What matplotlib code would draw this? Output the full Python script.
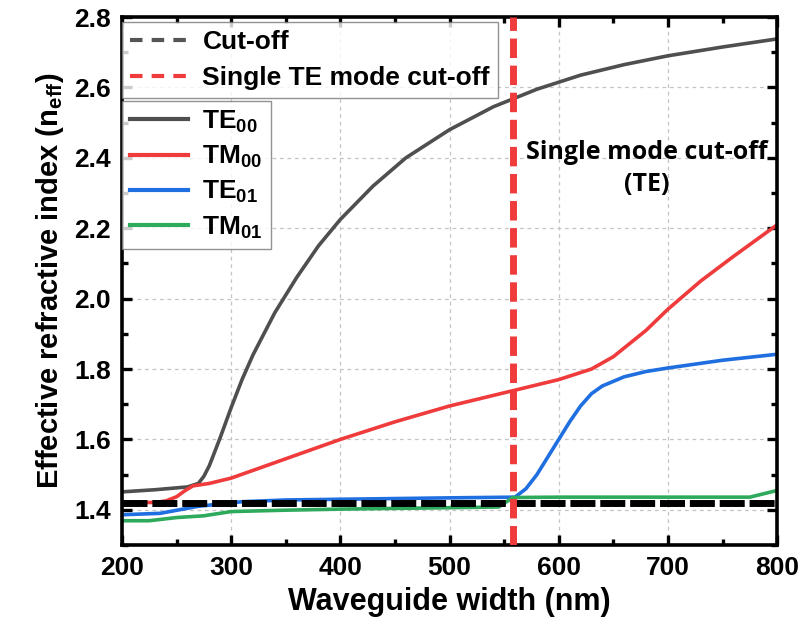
import numpy as np
import matplotlib
matplotlib.use('Agg')
import matplotlib.pyplot as plt
from matplotlib.lines import Line2D
from matplotlib.ticker import MultipleLocator

plt.rcParams['font.family'] = ['Liberation Sans', 'DejaVu Sans']
plt.rcParams['font.weight'] = 'bold'
plt.rcParams['mathtext.fontset'] = 'custom'
plt.rcParams['mathtext.rm'] = 'Liberation Sans:bold'
plt.rcParams['mathtext.bf'] = 'Liberation Sans:bold'
plt.rcParams['mathtext.it'] = 'Liberation Sans:bold'

# effective index vs waveguide width (nm), one set of samples per mode
w_te00 = [200, 230, 260, 270, 275, 280, 285, 290, 300, 310, 320, 340, 360,
          380, 400, 430, 460, 500, 540, 580, 620, 660, 700, 750, 800]
n_te00 = [1.451, 1.457, 1.465, 1.475, 1.495, 1.525, 1.565, 1.605, 1.69, 1.77,
          1.84, 1.96, 2.06, 2.15, 2.225, 2.32, 2.40, 2.48, 2.545, 2.595,
          2.635, 2.665, 2.69, 2.715, 2.738]

w_tm00 = [200, 230, 240, 250, 258, 265, 280, 300, 350, 400, 450, 500, 560,
          600, 630, 650, 680, 700, 730, 760, 800]
n_tm00 = [1.42, 1.421, 1.425, 1.437, 1.455, 1.468, 1.475, 1.49, 1.545, 1.60,
          1.65, 1.695, 1.74, 1.77, 1.80, 1.835, 1.91, 1.97, 2.05, 2.12, 2.21]

w_te01 = [200, 235, 270, 310, 350, 400, 450, 500, 560, 570, 580, 590, 600,
          610, 620, 630, 640, 650, 660, 680, 700, 750, 800]
n_te01 = [1.386, 1.39, 1.41, 1.423, 1.428, 1.43, 1.432, 1.434, 1.436, 1.46,
          1.50, 1.55, 1.60, 1.65, 1.695, 1.73, 1.752, 1.765, 1.778, 1.793,
          1.803, 1.825, 1.842]

w_tm01 = [200, 225, 250, 275, 300, 350, 400, 450, 500, 545, 558, 600, 700,
          775, 800]
n_tm01 = [1.369, 1.369, 1.378, 1.383, 1.395, 1.399, 1.402, 1.404, 1.406,
          1.408, 1.435, 1.436, 1.436, 1.436, 1.455]

n_cutoff = 1.42
w_single_te = 558

mode_labels = [r'TE$_{00}$', r'TM$_{00}$', r'TE$_{01}$', r'TM$_{01}$']
mode_colors = ['#4f4f4f', '#ef3b3b', '#1f6fe0', '#2eaa5c']

fig = plt.figure(figsize=(8.02, 6.33), dpi=100)
ax = fig.add_axes([0.152, 0.139, 0.817, 0.834])

ax.plot(w_te00, n_te00, color=mode_colors[0], lw=2.6)
ax.plot(w_tm00, n_tm00, color=mode_colors[1], lw=2.6)
ax.plot(w_te01, n_te01, color=mode_colors[2], lw=2.6)
ax.plot(w_tm01, n_tm01, color=mode_colors[3], lw=2.6)

ax.axhline(n_cutoff, color='black', lw=5, dashes=(3.6, 0.7), zorder=3)
ax.axvline(w_single_te, color='#ef3b3b', lw=5, dashes=(2.8, 1.1), zorder=4)

ax.set_xlim(200, 800)
ax.set_ylim(1.3, 2.8)
ax.xaxis.set_major_locator(MultipleLocator(100))
ax.xaxis.set_minor_locator(MultipleLocator(50))
ax.yaxis.set_minor_locator(MultipleLocator(0.1))
ax.set_yticks([1.4, 1.6, 1.8, 2.0, 2.2, 2.4, 2.6, 2.8])
ax.tick_params(which='both', direction='in', top=True, right=True, width=2.4)
ax.tick_params(which='major', length=7, labelsize=19, pad=8)
ax.tick_params(which='minor', length=4)
for s in ax.spines.values():
    s.set_linewidth(2.6)
ax.grid(True, which='major', ls=(0, (3, 3)), color='#c4c4c4', lw=0.9)

ax.set_xlabel('Waveguide width (nm)', fontsize=22, fontweight='bold', labelpad=5)
ax.set_ylabel(r'Effective refractive index (n$_{eff}$)', fontsize=21,
              fontweight='bold', labelpad=6)

ax.text(681, 2.37, 'Single mode cut-off\n(TE)', ha='center', va='center',
        fontsize=18, fontweight='bold', family='Open Sans', linespacing=1.4)

# two stacked legends: cut-off lines, then the modes
cut_handles = [Line2D([], [], color='#555555', lw=3, dashes=(3, 2.2)),
               Line2D([], [], color='#ef3b3b', lw=3, dashes=(3, 2.2))]
leg1 = ax.legend(cut_handles, ['Cut-off', 'Single TE mode cut-off'],
                 loc='upper left', bbox_to_anchor=(0.0, 0.99),
                 borderaxespad=0, fancybox=False, edgecolor='#777777',
                 fontsize=19, handlelength=2.2, labelspacing=0.45,
                 borderpad=0.3, handletextpad=0.55)
leg1.get_frame().set_linewidth(1.0)
ax.add_artist(leg1)

mode_handles = [Line2D([], [], color=c, lw=3) for c in mode_colors]
leg2 = ax.legend(mode_handles, mode_labels, loc='upper left',
                 bbox_to_anchor=(0.0, 0.842), borderaxespad=0,
                 fancybox=False, edgecolor='#777777', fontsize=19,
                 handlelength=2.2, labelspacing=0.35, borderpad=0.3,
                 handletextpad=0.55)
leg2.get_frame().set_linewidth(1.0)

fig.savefig('out.png', dpi=100)
